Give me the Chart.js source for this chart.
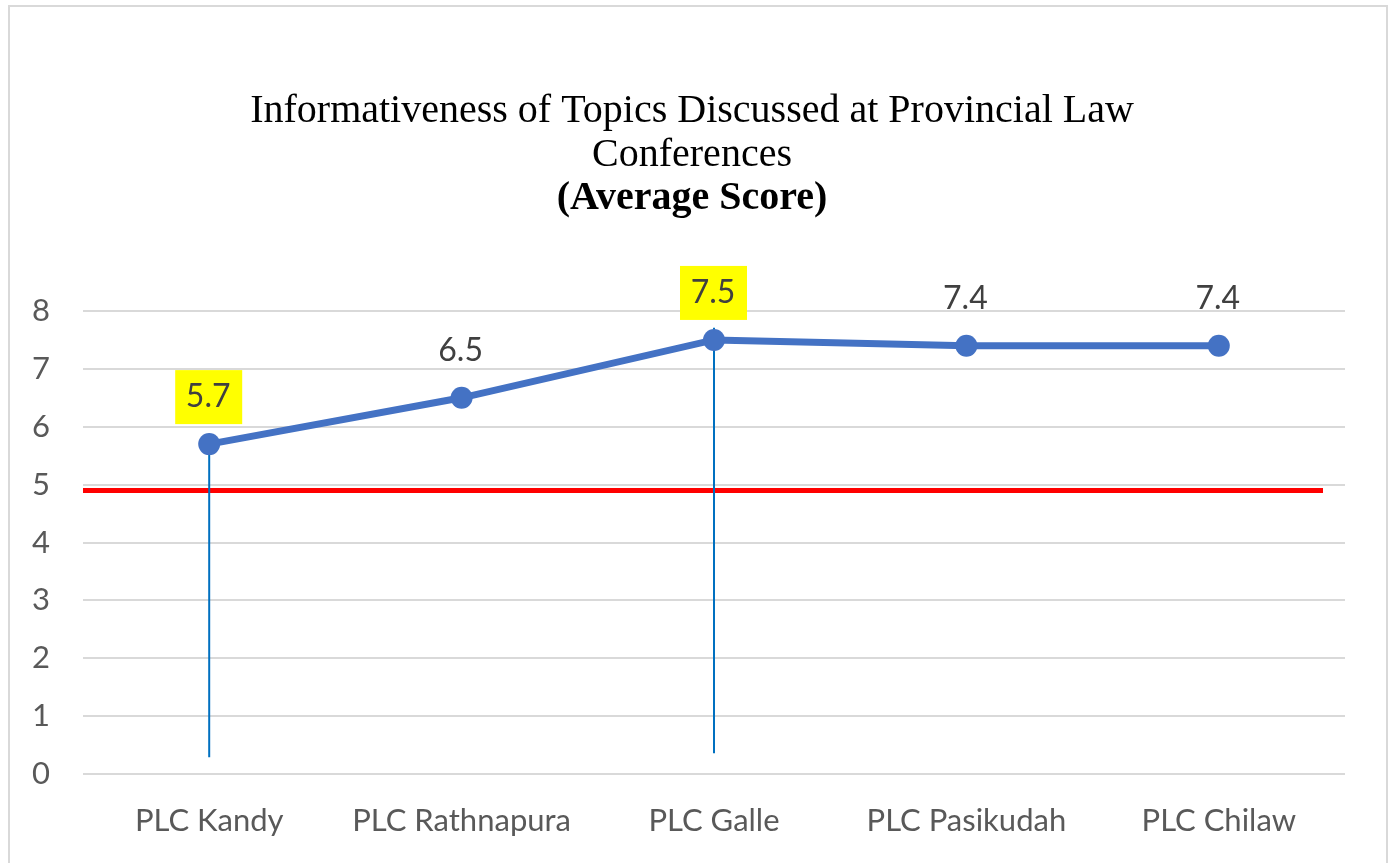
<!DOCTYPE html>
<html>
<head>
<meta charset="utf-8">
<script src="https://cdn.jsdelivr.net/npm/chart.js@4.4.1/dist/chart.umd.min.js"></script>
<style>
  html, body { margin: 0; padding: 0; background: #ffffff; }
  #frame { position: absolute; left: 8px; top: 5px; width: 1380px; height: 870px; border: 2px solid #d9d9d9; box-sizing: border-box; }
  #wrap { position: absolute; left: 8px; top: 5px; width: 1379px; height: 858px; }
</style>
</head>
<body>
<div id="frame"></div>
<div id="wrap"><canvas id="c" width="1379" height="858"></canvas></div>
<script>
// ---- data ----
const categories = ['PLC Kandy', 'PLC Rathnapura', 'PLC Galle', 'PLC Pasikudah', 'PLC Chilaw'];
const averageScores = [5.7, 6.5, 7.5, 7.4, 7.4];
const highlighted = [true, false, true, false, false];
const thresholdValue = 4.9;
const dropLineKandy = [{ x: 'PLC Kandy', y: 5.86 }, { x: 'PLC Kandy', y: 0.29 }];
const dropLineGalle = [{ x: 'PLC Galle', y: 7.71 }, { x: 'PLC Galle', y: 0.36 }];
const yTicks = [0, 1, 2, 3, 4, 5, 6, 7, 8];
const titleLines = ['Informativeness of Topics Discussed at Provincial Law', 'Conferences'];
const subtitleText = '(Average Score)';

const LABEL_FONT = 'Lato, "Open Sans", sans-serif';

const thresholdPlugin = {
  id: 'threshold',
  beforeDatasetsDraw(chart) {
    const { ctx, chartArea, scales } = chart;
    const y = scales.y.getPixelForValue(thresholdValue);
    ctx.save();
    ctx.strokeStyle = '#FF0000';
    ctx.lineWidth = 5;
    ctx.beginPath();
    ctx.moveTo(chartArea.left, y);
    ctx.lineTo(chartArea.right - 22, y);
    ctx.stroke();
    ctx.restore();
  }
};

const valueLabelPlugin = {
  id: 'valueLabels',
  afterDatasetsDraw(chart) {
    const { ctx } = chart;
    const meta = chart.getDatasetMeta(0);
    ctx.save();
    ctx.font = '32px ' + LABEL_FONT;
    ctx.textAlign = 'center';
    ctx.textBaseline = 'middle';
    meta.data.forEach((pt, i) => {
      const txt = averageScores[i].toFixed(1);
      const cx = pt.x - 1;
      const cy = pt.y - 47;
      if (highlighted[i]) {
        ctx.fillStyle = '#FFFF00';
        ctx.fillRect(cx - 33, cy - 27, 67, 54);
      }
      ctx.fillStyle = '#404040';
      ctx.fillText(txt, cx, cy);
    });
    ctx.restore();
  }
};

new Chart(document.getElementById('c'), {
  type: 'line',
  data: {
    labels: categories,
    datasets: [
      {
        label: 'Average Score',
        data: averageScores,
        borderColor: '#4472C4',
        backgroundColor: '#4472C4',
        borderWidth: 7,
        pointRadius: 11,
        pointHoverRadius: 11,
        pointBackgroundColor: '#4472C4',
        pointBorderWidth: 0,
        tension: 0,
        clip: false
      },
      {
        label: 'Kandy drop',
        data: dropLineKandy,
        borderColor: '#0070C0',
        borderWidth: 2,
        pointRadius: 0,
        clip: false
      },
      {
        label: 'Galle drop',
        data: dropLineGalle,
        borderColor: '#0070C0',
        borderWidth: 2,
        pointRadius: 0,
        clip: false
      }
    ]
  },
  options: {
    responsive: false,
    animation: false,
    events: [],
    layout: { padding: { left: 0, right: 11, top: 0, bottom: 0 } },
    plugins: {
      legend: { display: false },
      tooltip: { enabled: false },
      title: {
        display: true,
        text: titleLines,
        color: '#000000',
        font: { family: '"Liberation Serif", "Times New Roman", serif', size: 40, weight: 'normal', lineHeight: '44px' },
        padding: { top: 84, bottom: 0 }
      },
      subtitle: {
        display: true,
        text: subtitleText,
        color: '#000000',
        font: { family: '"Liberation Serif", "Times New Roman", serif', size: 40, weight: 'bold', lineHeight: '44px' },
        padding: { top: 0, bottom: 90 }
      }
    },
    scales: {
      x: {
        type: 'category',
        offset: true,
        grid: { display: false, drawTicks: false },
        border: { display: false },
        ticks: { color: '#595959', font: { family: LABEL_FONT, size: 31 }, padding: 28, maxRotation: 0, autoSkip: false },
        afterFit(scale) { scale.height = 89; }
      },
      y: {
        min: 0,
        max: 8,
        afterBuildTicks(scale) { scale.ticks = yTicks.map(v => ({ value: v })); },
        grid: { color: '#d9d9d9', lineWidth: 2, drawTicks: false },
        border: { display: false },
        ticks: { color: '#595959', font: { family: LABEL_FONT, size: 31 }, padding: 33 },
        afterFit(scale) { scale.width = 75; }
      },
      yRight: {
        position: 'right',
        min: 0,
        max: 8,
        grid: { display: false, drawTicks: false },
        border: { display: false },
        ticks: { display: false },
        afterFit(scale) { scale.width = 31; }
      }
    }
  },
  plugins: [thresholdPlugin, valueLabelPlugin]
});
</script>
</body>
</html>
